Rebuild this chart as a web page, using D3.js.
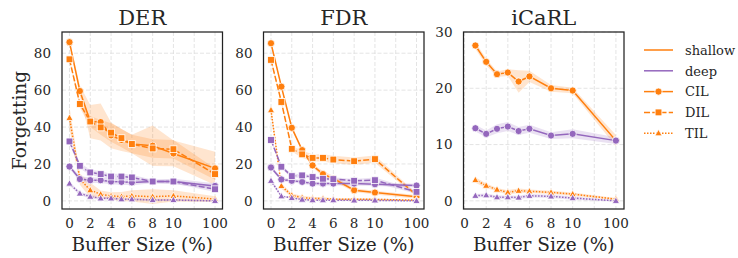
<!DOCTYPE html>
<meta charset="utf-8">
<style>
body { margin: 0; background: #fff; }
text { font-family: "DejaVu Serif", serif; fill: #262626; }
.grid line { stroke: #dddddd; stroke-width: 0.8; stroke-dasharray: 4,2; }
.frame { fill: none; stroke: #222; stroke-width: 1.25; }
</style>
<body>
<div id="chart"></div>
<script src="https://d3js.org/d3.v7.min.js"></script>
<script>
// buffer sizes (%)
var buffers = [0, 1, 2, 3, 4, 5, 6, 8, 10, 100];
var icarlBuffers = [1, 2, 3, 4, 5, 6, 8, 10, 100];

// DER
var derShallowCIL = [86, 59.5, 43, 42.7, 35.5, 33, 30.8, 29.9, 25.7, 17.6];
var derShallowCILci = [1, 3, 9, 10, 7, 6, 5, 11, 7, 9];
var derShallowDIL = [76.7, 52.5, 43, 39.8, 37, 34, 30.8, 28.4, 28, 14.5];
var derShallowDILci = [1, 2, 3, 4, 5, 5, 5, 5, 5, 3];
var derShallowTIL = [45, 11.8, 5.8, 3.6, 2.7, 2.3, 2.7, 2.3, 2.7, 1];
var derShallowTILci = [6, 3, 4, 2, 2, 2.5, 3, 4, 3, 1.5];
var derDeepCIL = [18.6, 11.8, 11.2, 11.2, 10.5, 10.3, 10, 10.5, 10.5, 8.1];
var derDeepCILci = [1, 1.5, 1.5, 1.5, 1.5, 1.5, 1.5, 1, 1.5, 1.5];
var derDeepDIL = [32.2, 19, 15.4, 14.5, 13.2, 13.2, 12.7, 10.5, 10.5, 6.3];
var derDeepDILci = [1.5, 1.5, 1.5, 1.5, 1.5, 1.5, 1.5, 1, 1, 1.5];
var derDeepTIL = [9.4, 4, 2.3, 1.4, 1.4, 0.9, 0.9, 0.5, 0.5, 0];
var derDeepTILci = [1, 1, 1, 0.8, 0.8, 0.5, 0.5, 0.5, 0.5, 0.3];

// FDR
var fdrShallowCIL = [85.4, 61.9, 39.6, 27.5, 19.2, 14.5, 12.1, 5.8, 4.5, 2.2];
var fdrShallowCILci = [1, 1, 1, 1, 1, 1.5, 1.5, 1, 1, 1];
var fdrShallowDIL = [76.4, 53.6, 28.2, 25.2, 23.3, 23.3, 22.4, 21.5, 22.6, 3.1];
var fdrShallowDILci = [1, 1, 1.5, 2, 2, 2, 2, 2, 2, 1];
var fdrShallowTIL = [49.2, 8.1, 3, 1.8, 1.3, 1.3, 0.9, 0.9, 0.8, 0.4];
var fdrShallowTILci = [2, 1.5, 1, 1, 0.8, 0.8, 0.5, 0.5, 0.5, 0.3];
var fdrDeepCIL = [18.1, 11.6, 10.9, 10.3, 9.4, 9.4, 9.4, 9.4, 9, 8.3];
var fdrDeepCILci = [1, 1, 1, 1, 1, 1, 1, 1, 1, 1];
var fdrDeepDIL = [33, 18.5, 13.4, 13.8, 12.9, 12, 11.8, 10.9, 11.2, 4.9];
var fdrDeepDILci = [1, 1, 1, 1, 1, 1, 1, 1, 1.5, 1];
var fdrDeepTIL = [10.9, 2.5, 1.6, 0.7, 0.4, 0.4, 0.4, 0.3, 0.3, 0];
var fdrDeepTILci = [1, 0.5, 0.5, 0.3, 0.3, 0.3, 0.3, 0.3, 0.3, 0.2];

// iCaRL (no DIL)
var icarlShallowCIL = [27.6, 24.7, 22.5, 22.8, 21.2, 22.1, 20, 19.6, 10.7];
var icarlShallowCILci = [0.6, 0.6, 0.5, 0.6, 2, 1, 0.6, 0.5, 1];
var icarlShallowTIL = [3.7, 2.7, 2.0, 1.5, 1.8, 1.7, 1.5, 1.2, 0.3];
var icarlShallowTILci = [0.5, 0.4, 0.3, 0.4, 0.4, 0.3, 0.3, 0.3, 0.2];
var icarlDeepCIL = [12.9, 11.9, 12.8, 13.2, 12.4, 12.8, 11.6, 11.9, 10.7];
var icarlDeepCILci = [0.6, 0.6, 0.8, 0.8, 0.7, 0.7, 0.6, 0.8, 0.6];
var icarlDeepTIL = [0.9, 1.0, 0.65, 0.65, 0.6, 0.9, 0.8, 0.5, 0];
var icarlDeepTILci = [0.3, 0.3, 0.3, 0.3, 0.3, 0.3, 0.3, 0.3, 0.1];

var xTicks = [0, 2, 4, 6, 8, 10, 12, 14];
var xTickLabels = ["0", "2", "4", "6", "8", "10", "", "100"];

var colors = {shallow: "#ff7f0e", deep: "#9467bd"};
var dashes = {CIL: null, DIL: "6,2.25", TIL: "1.5,1.5"};

// 100% sits at position 14 on the axis
function pos(b) { return b == 100 ? 14 : b; }

function mk(depth, setting, xs, vals, ci) {
  return {depth: depth, setting: setting,
    pts: xs.map(function(b, i) { return {x: pos(b), y: vals[i], ci: ci[i]}; })};
}

var panels = [
  {title: "DER", left: 62, xdom: [-0.72, 14.72], ydom: [-4.4, 91.5], yticks: [0, 20, 40, 60, 80],
   series: [mk("shallow", "CIL", buffers, derShallowCIL, derShallowCILci),
            mk("shallow", "DIL", buffers, derShallowDIL, derShallowDILci),
            mk("shallow", "TIL", buffers, derShallowTIL, derShallowTILci),
            mk("deep", "CIL", buffers, derDeepCIL, derDeepCILci),
            mk("deep", "DIL", buffers, derDeepDIL, derDeepDILci),
            mk("deep", "TIL", buffers, derDeepTIL, derDeepTILci)]},
  {title: "FDR", left: 263.5, xdom: [-0.72, 14.72], ydom: [-4.4, 91.5], yticks: [0, 20, 40, 60, 80],
   series: [mk("shallow", "CIL", buffers, fdrShallowCIL, fdrShallowCILci),
            mk("shallow", "DIL", buffers, fdrShallowDIL, fdrShallowDILci),
            mk("shallow", "TIL", buffers, fdrShallowTIL, fdrShallowTILci),
            mk("deep", "CIL", buffers, fdrDeepCIL, fdrDeepCILci),
            mk("deep", "DIL", buffers, fdrDeepDIL, fdrDeepDILci),
            mk("deep", "TIL", buffers, fdrDeepTIL, fdrDeepTILci)]},
  {title: "iCaRL", left: 463.5, xdom: [-0.1, 14.75], ydom: [-1.45, 30], yticks: [0, 10, 20, 30],
   series: [mk("shallow", "CIL", icarlBuffers, icarlShallowCIL, icarlShallowCILci),
            mk("shallow", "TIL", icarlBuffers, icarlShallowTIL, icarlShallowTILci),
            mk("deep", "CIL", icarlBuffers, icarlDeepCIL, icarlDeepCILci),
            mk("deep", "TIL", icarlBuffers, icarlDeepTIL, icarlDeepTILci)]}
];

var W = 738, H = 258, topY = 32, bottomY = 209, pw = 160.5;

var svg = d3.select("#chart").append("svg").attr("width", W).attr("height", H);

function marker(sel, setting, color) {
  if (setting == "CIL") {
    sel.append("circle").attr("r", 3.6);
  } else if (setting == "DIL") {
    sel.append("rect").attr("x", -3.4).attr("y", -3.4).attr("width", 6.8).attr("height", 6.8);
  } else {
    sel.append("path").attr("d", "M0,-3.8L3.6,2.6L-3.6,2.6Z");
  }
  sel.selectAll("*").attr("fill", color).attr("stroke", "#fff").attr("stroke-width", 0.8);
}

panels.forEach(function(p) {
  var x = d3.scaleLinear().domain(p.xdom).range([p.left, p.left + pw]);
  var y = d3.scaleLinear().domain(p.ydom).range([bottomY, topY]);
  var g = svg.append("g");

  var grid = g.append("g").attr("class", "grid");
  grid.selectAll(".gx").data(xTicks).enter().append("line")
    .attr("x1", function(d) { return x(d); }).attr("x2", function(d) { return x(d); })
    .attr("y1", topY).attr("y2", bottomY);
  grid.selectAll(".gy").data(p.yticks).enter().append("line")
    .attr("y1", function(d) { return y(d); }).attr("y2", function(d) { return y(d); })
    .attr("x1", p.left).attr("x2", p.left + pw);

  var area = d3.area().x(function(d) { return x(d.x); })
    .y0(function(d) { return y(d.y - d.ci); }).y1(function(d) { return y(d.y + d.ci); });
  var line = d3.line().x(function(d) { return x(d.x); }).y(function(d) { return y(d.y); });

  // bands under every line
  p.series.forEach(function(s) {
    g.append("path").attr("d", area(s.pts))
      .attr("fill", colors[s.depth]).attr("fill-opacity", 0.2).attr("stroke", "none");
  });
  p.series.forEach(function(s) {
    g.append("path").attr("d", line(s.pts)).attr("fill", "none")
      .attr("stroke", colors[s.depth]).attr("stroke-width", 1.5)
      .attr("stroke-dasharray", dashes[s.setting]);
    g.selectAll(null).data(s.pts).enter().append("g")
      .attr("transform", function(d) { return "translate(" + x(d.x) + "," + y(d.y) + ")"; })
      .each(function() { marker(d3.select(this), s.setting, colors[s.depth]); });
  });

  g.append("rect").attr("class", "frame").attr("x", p.left).attr("y", topY)
    .attr("width", pw).attr("height", bottomY - topY);

  g.selectAll(".yt").data(p.yticks).enter().append("text")
    .attr("x", p.left - 11).attr("y", function(d) { return y(d) + 4.8; })
    .attr("text-anchor", "end").style("font-size", "13.5px").text(function(d) { return d; });
  g.selectAll(".xt").data(xTicks).enter().append("text")
    .attr("x", function(d) { return x(d); }).attr("y", 228)
    .attr("text-anchor", "middle").style("font-size", "13.5px")
    .text(function(d, i) { return xTickLabels[i]; });

  g.append("text").attr("x", p.left + pw / 2).attr("y", 25).attr("text-anchor", "middle")
    .style("font-size", "21px").text(p.title);
  g.append("text").attr("x", p.left + pw / 2).attr("y", 251).attr("text-anchor", "middle")
    .style("font-size", "18.5px").text("Buffer Size (%)");
});

svg.append("text").attr("transform", "translate(26,120.5) rotate(-90)")
  .attr("text-anchor", "middle").style("font-size", "18.5px").text("Forgetting");

// legend
var leg = svg.append("g");
var rows = [
  {label: "shallow", color: colors.shallow, setting: null},
  {label: "deep", color: colors.deep, setting: null},
  {label: "CIL", color: colors.shallow, setting: "CIL"},
  {label: "DIL", color: colors.shallow, setting: "DIL"},
  {label: "TIL", color: colors.shallow, setting: "TIL"}
];
rows.forEach(function(r, i) {
  var cy = 50 + i * 20.8;
  leg.append("line").attr("x1", 644).attr("x2", 673).attr("y1", cy).attr("y2", cy)
    .attr("stroke", r.color).attr("stroke-width", 1.5)
    .attr("stroke-dasharray", r.setting ? dashes[r.setting] : null);
  if (r.setting) {
    var m = leg.append("g").attr("transform", "translate(658.5," + cy + ")");
    marker(m, r.setting, r.color);
  }
  leg.append("text").attr("x", 685).attr("y", cy + 4.7).style("font-size", "13px").text(r.label);
});
</script>
</body>
